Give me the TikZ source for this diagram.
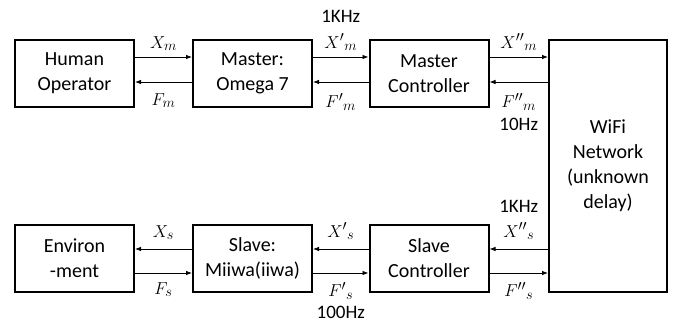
\documentclass[tikz,border=0pt]{standalone}
\usepackage{fontspec}
\setmainfont{Carlito}
\usetikzlibrary{arrows.meta,positioning}

\begin{document}
\begin{tikzpicture}[x=1pt,y=-1pt,
    block/.style={draw,line width=2pt,minimum width=119pt,minimum height=67pt,
      align=center,inner sep=0pt,font=\fontsize{20}{25}\selectfont},
    sig/.style={line width=0.8pt,-{Latex[length=6pt,width=4.5pt]}},
    lbl/.style={inner sep=1pt,font=\fontsize{19}{22}\selectfont}]
    \useasboundingbox (0,0) rectangle (680,329);

    % Draw the blocks
    \node[block] (hum) at (74.5,73.5) {Human\\Operator};
    \node[block] (mst) at (252.5,73.5) {Master:\\Omega 7};
    \node[block] (mctl) at (429,73.5) {Master\\Controller};
    \node[block,minimum width=118pt,minimum height=252pt] (wifi) at (608,166)
      {WiFi\\Network\\(unknown\\delay)};
    \node[block] (env) at (74.5,258.5) {Environ\\-ment};
    \node[block] (slv) at (252.5,258.5) {Slave:\\Miiwa(iiwa)};
    \node[block] (sctl) at (429,258.5) {Slave\\Controller};

    % Master side signals
    \draw[sig] ([yshift=16.5pt]hum.east) -- node[lbl,above=5pt] (xm) {$X_m$} ([yshift=16.5pt]mst.west);
    \draw[sig] ([yshift=-8.5pt]mst.west) -- node[lbl,below=10pt] (fm) {$F_m$} ([yshift=-8.5pt]hum.east);
    \draw[sig] ([yshift=16.5pt]mst.east) -- node[lbl,above=5pt] (xpm) {$X'{}_m$} ([yshift=16.5pt]mctl.west);
    \draw[sig] ([yshift=-8.5pt]mctl.west) -- node[lbl,below=10pt] (fpm) {$F'{}_m$} ([yshift=-8.5pt]mst.east);
    \draw[sig] ([yshift=16.5pt]mctl.east) -- node[lbl,above=5pt] (xppm) {$X''{}_m$} ([yshift=16.5pt]mctl.east -| wifi.west);
    \draw[sig] ([yshift=-8.5pt]mctl.east -| wifi.west) -- node[lbl,below=10pt] (fppm) {$F''{}_m$} ([yshift=-8.5pt]mctl.east);

    % Slave side signals
    \draw[sig] ([yshift=9.5pt]slv.west) -- node[lbl,above=8pt] (xs) {$X_s$} ([yshift=9.5pt]env.east);
    \draw[sig] ([yshift=-14.5pt]env.east) -- node[lbl,below=8pt] (fs) {$F_s$} ([yshift=-14.5pt]slv.west);
    \draw[sig] ([yshift=9.5pt]sctl.west) -- node[lbl,above=8pt] (xps) {$X'{}_s$} ([yshift=9.5pt]slv.east);
    \draw[sig] ([yshift=-14.5pt]slv.east) -- node[lbl,below=8pt] (fps) {$F'{}_s$} ([yshift=-14.5pt]sctl.west);
    \draw[sig] ([yshift=9.5pt]sctl.east -| wifi.west) -- node[lbl,above=8pt] (xpps) {$X''{}_s$} ([yshift=9.5pt]sctl.east);
    \draw[sig] ([yshift=-14.5pt]sctl.east) -- node[lbl,below=8pt] (fpps) {$F''{}_s$} ([yshift=-14.5pt]sctl.east -| wifi.west);

    % Rates
    \node[lbl,above=9pt of xpm] (r1) {1KHz};
    \node[lbl,below=5pt of fppm] (r2) {10Hz};
    \node[lbl,above=8pt of xpps] (r3) {1KHz};
    \node[lbl,below=4pt of fps] (r4) {100Hz};
\end{tikzpicture}
\end{document}
